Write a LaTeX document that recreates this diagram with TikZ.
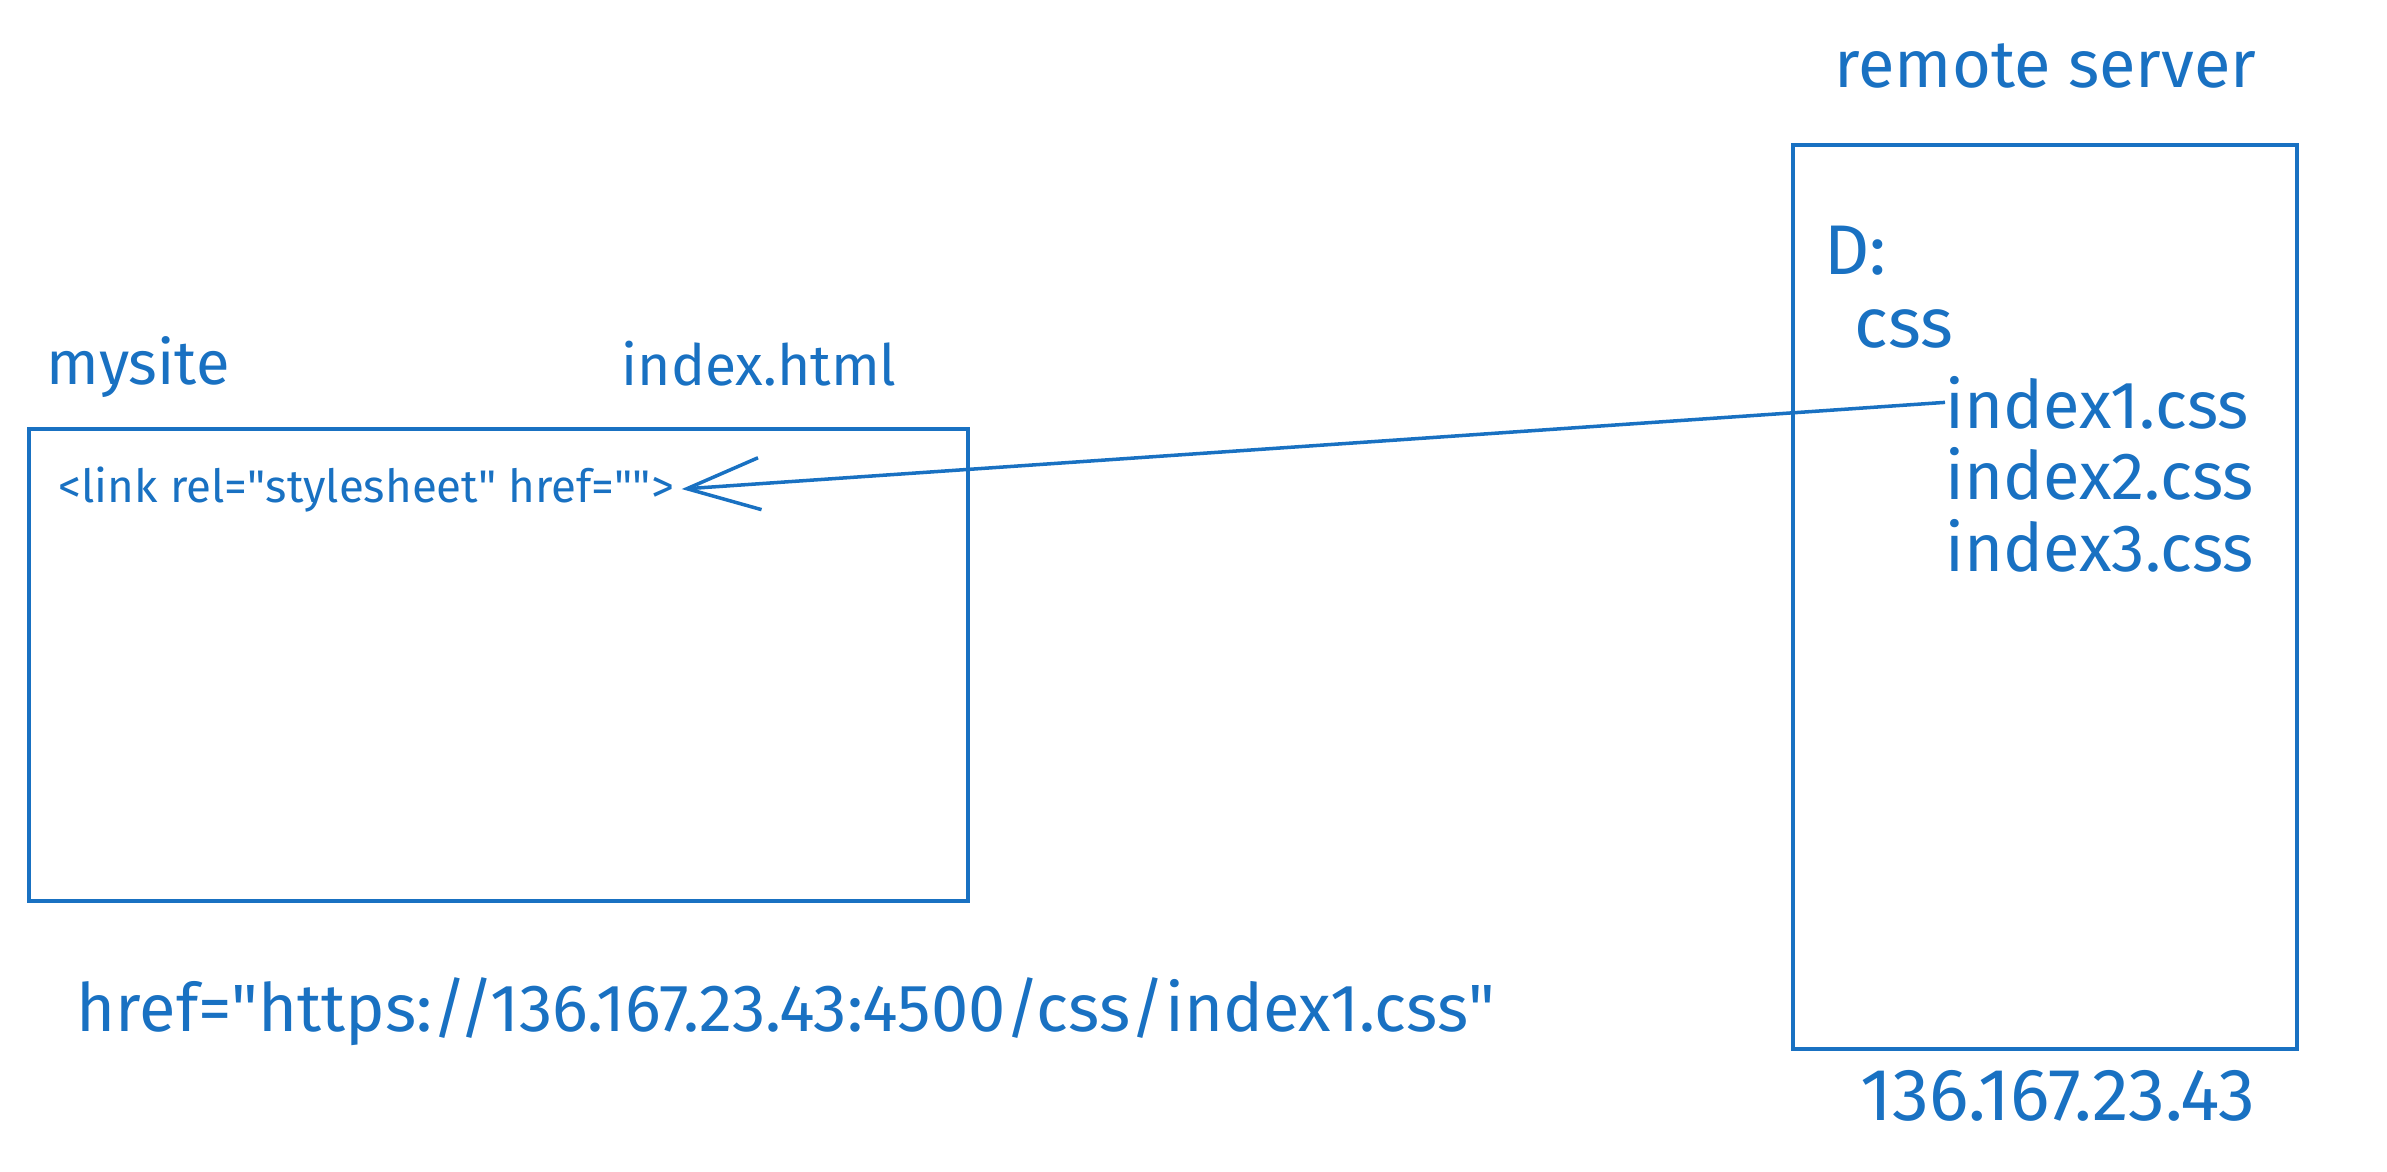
\documentclass[tikz,border=0pt]{standalone}
\usepackage{fontspec}
\setmainfont{Fira Sans}
\usepackage{xcolor}
\usetikzlibrary{arrows.meta,positioning}
\definecolor{pen}{HTML}{1971C2}
\newcommand{\qt}{\textquotedbl}

\begin{document}
\begin{tikzpicture}[
  frame/.style={draw=pen,line width=1pt},
  hand/.style={font=\fontsize{#1}{#1}\selectfont,text=pen,anchor=base west,inner sep=0pt},
  hand/.default=19,
  link/.style={draw=pen,line width=1pt,-{Straight Barb[length=7.3mm,width=5.2mm,line width=1pt]}}
]
  \useasboundingbox (0,0) rectangle (23.87,-11.71);
  \draw[frame] (0.29,-4.29) rectangle (9.68,-9.01);
  \draw[frame] (17.93,-1.45) rectangle (22.97,-10.49);
  \node[hand=17.5] (site) at (0.46,-3.84) {mysite};
  \node[hand=16.2] (page) at (6.21,-3.85) {index.html};
  \node[hand=13]   (tag)  at (0.58,-5.02) {<link rel=\qt stylesheet\qt{} href=\qt\qt>};
  \node[hand]      (srv)  at (18.34,-0.87) {remote server};
  \node[hand=20]   (drv)  at (18.24,-2.74) {D:};
  \node[hand=20]   (dir)  at (18.54,-3.47) {css};
  \node[hand]      (css1) at (19.45,-4.28) {index1.css};
  \node[hand]      (css2) at (19.45,-4.99) {index2.css};
  \node[hand]      (css3) at (19.45,-5.71) {index3.css};
  \node[hand]      (url)  at (0.76,-10.31) {href=\qt https://136.167.23.43:4500/css/index1.css\qt};
  \node[hand=21]   (ip)   at (18.60,-11.20) {136.167.23.43};
  \draw[link] (css1.west) -- ([xshift=0.07cm]tag.east);
\end{tikzpicture}
\end{document}
